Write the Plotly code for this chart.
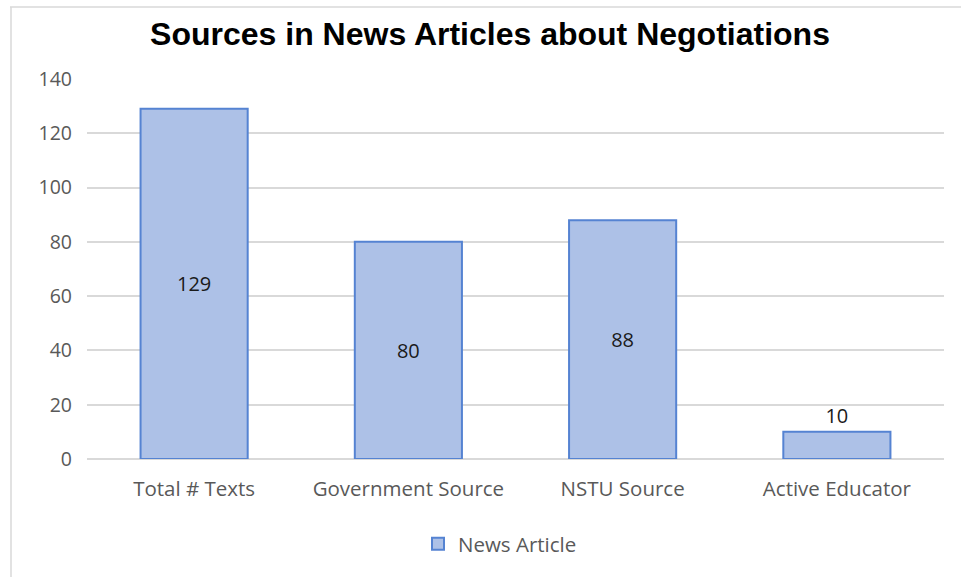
import plotly.graph_objects as go

categories = ["Total # Texts", "Government Source", "NSTU Source", "Active Educator"]
values = [129, 80, 88, 10]
label_positions = ["inside", "inside", "inside", "outside"]
series_name = "News Article"
title_text = "Sources in News Articles about Negotiations"
y_ticks = [0, 20, 40, 60, 80, 100, 120, 140]

W, H = 961, 577
L, R, T, B = 87, 17, 79, 118

fig = go.Figure()
fig.add_trace(go.Bar(
    x=categories, y=values, name=series_name,
    marker=dict(color="#adc1e7", line=dict(color="#5583d2", width=2)),
    width=0.5,
    text=[str(v) for v in values],
    textposition=label_positions,
    insidetextanchor="middle",
    constraintext="none",
    cliponaxis=False,
    textfont=dict(family="Open Sans", size=20, color="#1a1a1a"),
    showlegend=True,
))

fig.update_layout(
    width=W, height=H,
    margin=dict(l=L, r=R, t=T, b=B, pad=0),
    paper_bgcolor="white", plot_bgcolor="white",
    title=dict(text="<b>" + title_text + "</b>", x=490 / W, xanchor="center", xref="container",
               y=1 - 34 / H, yanchor="middle", yref="container",
               font=dict(family="Liberation Sans, Arial", size=32, color="#000000")),
    xaxis=dict(showgrid=False, showline=False, zeroline=False, ticks="",
               tickfont=dict(family="Open Sans", size=20.5, color="#595959"),
               ticklabelstandoff=15, fixedrange=True),
    yaxis=dict(range=[0, 140], tickvals=y_ticks, showgrid=True, gridcolor="#d9d9d9", gridwidth=1.5,
               zeroline=True, zerolinecolor="#d9d9d9", zerolinewidth=1.5, showline=False, ticks="",
               tickfont=dict(family="Open Sans", size=19.5, color="#595959"),
               ticklabelstandoff=14, fixedrange=True),
    legend=dict(orientation="h", x=(500 - L) / (W - L - R), xanchor="center", y=-(544 - 459) / (H - T - B),
                yanchor="middle", font=dict(family="Open Sans", size=20.5, color="#595959"),
                itemwidth=30),
    bargap=0.5,
    shapes=[
        dict(type="line", xref="paper", yref="paper",
             x0=(10 - L) / (W - L - R), x1=(W - L) / (W - L - R),
             y0=1 + (T - 7) / (H - T - B), y1=1 + (T - 7) / (H - T - B),
             line=dict(color="#d9d9d9", width=1.5)),
        dict(type="line", xref="paper", yref="paper",
             x0=(11 - L) / (W - L - R), x1=(11 - L) / (W - L - R),
             y0=1 + (T - 7) / (H - T - B), y1=-(H - (H - B)) / (H - T - B),
             line=dict(color="#d9d9d9", width=1.5)),
    ],
)

fig.write_html("out.html", config={"displayModeBar": False})
